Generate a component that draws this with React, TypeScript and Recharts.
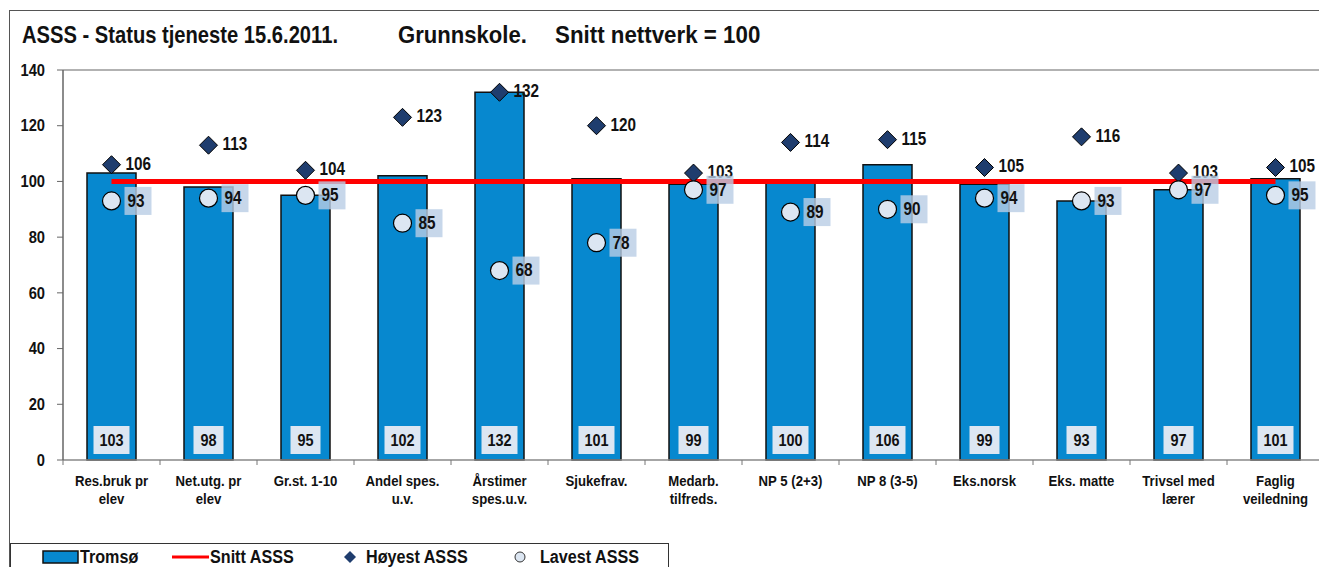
import React from 'react';
import {
  ComposedChart, Bar, Line, Scatter, XAxis, YAxis, ReferenceLine, LabelList,
} from 'recharts';

const categories = [
  'Res.bruk pr\nelev', 'Net.utg. pr\nelev', 'Gr.st. 1-10', 'Andel spes.\nu.v.', 'Årstimer\nspes.u.v.',
  'Sjukefrav.', 'Medarb.\ntilfreds.', 'NP 5 (2+3)', 'NP 8 (3-5)', 'Eks.norsk', 'Eks. matte',
  'Trivsel med\nlærer', 'Faglig\nveiledning',
];
const tromso = [103, 98, 95, 102, 132, 101, 99, 100, 106, 99, 93, 97, 101];
const snitt = [100, 100, 100, 100, 100, 100, 100, 100, 100, 100, 100, 100, 100];
const hoyest = [106, 113, 104, 123, 132, 120, 103, 114, 115, 105, 116, 103, 105];
const lavest = [93, 94, 95, 85, 68, 78, 97, 89, 90, 94, 93, 97, 95];
const yTicks = [0, 20, 40, 60, 80, 100, 120, 140];

const FONT = '"Liberation Sans", Arial, sans-serif';
const BLUE = '#0788cf';
const NAVY = '#1f3d6e';
const SQ = 0.85; // horizontal squeeze, the source uses a narrow face

const data = categories.map((name, i) => ({
  name, tromso: tromso[i], snitt: snitt[i], hoy: hoyest[i], lav: lavest[i],
}));

// bold text squeezed horizontally
const NText = ({ x, y, size, anchor = 'start', children, sq = SQ }: any) => (
  <text transform={`translate(${x},${y}) scale(${sq},1)`} textAnchor={anchor} dominantBaseline="central"
    fontFamily={FONT} fontWeight="bold" fontSize={size} fill="#111">
    {children}
  </text>
);

const XTick = (props: any) => {
  const { x, y, payload } = props;
  const half = payload.offset ?? 48.5;
  const lines = String(payload.value).split('\n');
  return (
    <g>
      <line x1={x - half} x2={x - half} y1={y - 5} y2={y} stroke="#777" />
      {lines.map((l, i) => (
        <NText key={i} x={x} y={y + 16 + i * 18} size={15.5} anchor="middle">{l}</NText>
      ))}
    </g>
  );
};

const YTick = (props: any) => {
  const { x, y, payload } = props;
  return <NText x={x} y={y} size={16} anchor="end" sq={0.92}>{payload.value}</NText>;
};

const BarValue = (props: any) => {
  const { x, y, width, height, value } = props;
  const cx = x + width / 2;
  const bottom = y + height;
  const w = String(value).length > 2 ? 36 : 30;
  return (
    <g>
      <rect x={cx - w / 2} y={bottom - 34} width={w} height={28} fill="#dce6f2" />
      <NText x={cx} y={bottom - 20} size={17} anchor="middle">{value}</NText>
    </g>
  );
};

const Diamond = (props: any) => {
  const { cx, cy, payload } = props;
  const s = 9;
  return (
    <g>
      <path d={`M${cx},${cy - s} L${cx + s},${cy} L${cx},${cy + s} L${cx - s},${cy} Z`} fill={NAVY} stroke="#000" strokeWidth={1} />
      <NText x={cx + 14} y={cy - 1} size={18}>{payload.hoy}</NText>
    </g>
  );
};

const Circle = (props: any) => {
  const { cx, cy, payload } = props;
  return (
    <g>
      <rect x={cx + 13} y={cy - 14} width={27} height={28} fill="#b9cde5" fillOpacity={0.8} />
      <circle cx={cx} cy={cy} r={9} fill="#dce6f2" stroke="#000" strokeWidth={1.2} />
      <NText x={cx + 16} y={cy} size={18}>{payload.lav}</NText>
    </g>
  );
};

const Legend = () => (
  <svg width={660} height={30} style={{ position: 'absolute', left: 10, top: 543, overflow: 'visible' }}>
    <rect x={0.5} y={0.5} width={658} height={40} fill="none" stroke="#333" />
    <rect x={33} y={8} width={35} height={12} fill={BLUE} stroke="#111" strokeWidth={1.5} />
    <NText x={70} y={14} size={19}>Tromsø</NText>
    <line x1={162} x2={199} y1={14} y2={14} stroke="#ff0000" strokeWidth={3} />
    <NText x={200} y={14} size={19}>Snitt ASSS</NText>
    <path d="M340,8 L346,14 L340,20 L334,14 Z" fill={NAVY} />
    <NText x={356} y={14} size={19}>Høyest ASSS</NText>
    <circle cx={510} cy={14} r={5} fill="#dce6f2" stroke="#333" />
    <NText x={530} y={14} size={19}>Lavest ASSS</NText>
  </svg>
);

const titleStyle = (sq: number): React.CSSProperties => ({
  position: 'absolute', top: 0, transform: `scaleX(${sq})`, transformOrigin: 'left center', whiteSpace: 'nowrap',
});

export default function App() {
  return (
    <div style={{ position: 'absolute', left: 0, top: 0, width: 1319, height: 567, overflow: 'hidden', background: '#fff', fontFamily: FONT }}>
      <div style={{ position: 'absolute', left: 9, top: 10, width: 1400, height: 600, border: '1.5px solid #555' }} />
      <div style={{ position: 'absolute', left: 22, top: 21, fontSize: 24, fontWeight: 'bold', color: '#111' }}>
        <span style={{ ...titleStyle(0.84), left: 0 }}>ASSS - Status tjeneste 15.6.2011.</span>
        <span style={{ ...titleStyle(0.92), left: 376 }}>Grunnskole.</span>
        <span style={{ ...titleStyle(0.93), left: 533 }}>Snitt nettverk = 100</span>
      </div>
      <div style={{ position: 'absolute', left: 0, top: 0 }}>
        <ComposedChart width={1340} height={540} data={data} margin={{ top: 70, right: 16, left: 0, bottom: 0 }}>
          <ReferenceLine y={140} stroke="#999" strokeWidth={1.5} />
          <XAxis dataKey="name" interval={0} height={80} axisLine={{ stroke: '#888', strokeWidth: 1.5 }}
            tickLine={false} tickSize={5} tickMargin={0} tick={<XTick />} />
          <YAxis width={63} domain={[0, 140]} ticks={yTicks} tickSize={6} tickMargin={12}
            axisLine={{ stroke: '#666', strokeWidth: 1.5 }} tickLine={{ stroke: '#666' }} tick={<YTick />} />
          <Bar dataKey="tromso" barSize={49} fill={BLUE} stroke="#111" strokeWidth={1.5} isAnimationActive={false}>
            <LabelList dataKey="tromso" content={<BarValue />} />
          </Bar>
          <Line type="linear" dataKey="snitt" stroke="#ff0000" strokeWidth={5} dot={false} activeDot={false} isAnimationActive={false} />
          <Scatter dataKey="hoy" shape={<Diamond />} isAnimationActive={false} />
          <Scatter dataKey="lav" shape={<Circle />} isAnimationActive={false} />
        </ComposedChart>
      </div>
      <Legend />
    </div>
  );
}
